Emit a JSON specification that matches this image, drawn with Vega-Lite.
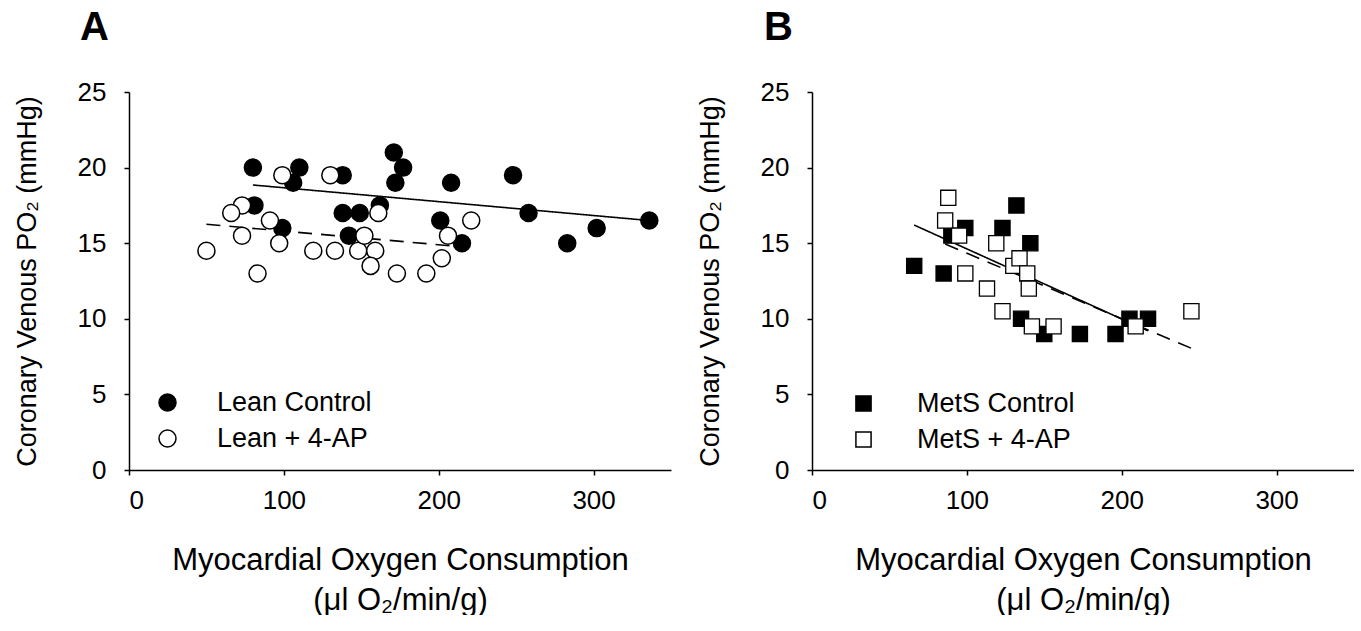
{
  "$schema": "https://vega.github.io/schema/vega-lite/v6.json",
  "background": "white",
  "padding": {"left": 13, "top": 8, "right": 0, "bottom": 0},
  "spacing": 25,
  "config": {
    "font": "Liberation Sans",
    "view": {"stroke": null},
    "axis": {
      "grid": false,
      "domainColor": "black",
      "domainWidth": 1.5,
      "tickColor": "black",
      "tickWidth": 1.5,
      "tickSize": 5,
      "labelColor": "black",
      "labelFontSize": 26,
      "labelFont": "Liberation Sans",
      "titleFont": "Liberation Sans",
      "titleColor": "black",
      "titleFontWeight": "normal"
    },
    "axisX": {"labelPadding": 12, "titleFontSize": 31, "titlePadding": 32, "titleLineHeight": 40},
    "axisY": {"labelPadding": 18, "titleFontSize": 27, "titlePadding": 36},
    "legend": {
      "labelFontSize": 27,
      "labelColor": "black",
      "labelFont": "Liberation Sans",
      "symbolStrokeColor": "black",
      "symbolStrokeWidth": 1.5,
      "rowPadding": 8,
      "labelOffset": 36
    },
    "title": {"fontSize": 40, "fontWeight": "bold", "anchor": "start", "frame": "group", "color": "black", "font": "Liberation Sans"}
  },
  "datasets": {
    "ptsA": [
      {"group": "Lean Control", "mvo2": 80, "po2": 20},
      {"group": "Lean Control", "mvo2": 110, "po2": 20},
      {"group": "Lean Control", "mvo2": 106, "po2": 19},
      {"group": "Lean Control", "mvo2": 138, "po2": 19.5},
      {"group": "Lean Control", "mvo2": 171, "po2": 21},
      {"group": "Lean Control", "mvo2": 177, "po2": 20},
      {"group": "Lean Control", "mvo2": 172, "po2": 19},
      {"group": "Lean Control", "mvo2": 81, "po2": 17.5},
      {"group": "Lean Control", "mvo2": 99, "po2": 16},
      {"group": "Lean Control", "mvo2": 138, "po2": 17},
      {"group": "Lean Control", "mvo2": 149, "po2": 17},
      {"group": "Lean Control", "mvo2": 162, "po2": 17.5},
      {"group": "Lean Control", "mvo2": 142, "po2": 15.5},
      {"group": "Lean Control", "mvo2": 208, "po2": 19},
      {"group": "Lean Control", "mvo2": 248, "po2": 19.5},
      {"group": "Lean Control", "mvo2": 258, "po2": 17},
      {"group": "Lean Control", "mvo2": 201, "po2": 16.5},
      {"group": "Lean Control", "mvo2": 215, "po2": 15},
      {"group": "Lean Control", "mvo2": 283, "po2": 15},
      {"group": "Lean Control", "mvo2": 302, "po2": 16},
      {"group": "Lean Control", "mvo2": 336, "po2": 16.5},
      {"group": "Lean + 4-AP", "mvo2": 99, "po2": 19.5},
      {"group": "Lean + 4-AP", "mvo2": 130, "po2": 19.5},
      {"group": "Lean + 4-AP", "mvo2": 73, "po2": 17.5},
      {"group": "Lean + 4-AP", "mvo2": 66, "po2": 17},
      {"group": "Lean + 4-AP", "mvo2": 91, "po2": 16.5},
      {"group": "Lean + 4-AP", "mvo2": 73, "po2": 15.5},
      {"group": "Lean + 4-AP", "mvo2": 97, "po2": 15},
      {"group": "Lean + 4-AP", "mvo2": 50, "po2": 14.5},
      {"group": "Lean + 4-AP", "mvo2": 119, "po2": 14.5},
      {"group": "Lean + 4-AP", "mvo2": 133, "po2": 14.5},
      {"group": "Lean + 4-AP", "mvo2": 148, "po2": 14.5},
      {"group": "Lean + 4-AP", "mvo2": 159, "po2": 14.5},
      {"group": "Lean + 4-AP", "mvo2": 152, "po2": 15.5},
      {"group": "Lean + 4-AP", "mvo2": 161, "po2": 17},
      {"group": "Lean + 4-AP", "mvo2": 156, "po2": 13.5},
      {"group": "Lean + 4-AP", "mvo2": 83, "po2": 13},
      {"group": "Lean + 4-AP", "mvo2": 173, "po2": 13},
      {"group": "Lean + 4-AP", "mvo2": 192, "po2": 13},
      {"group": "Lean + 4-AP", "mvo2": 221, "po2": 16.5},
      {"group": "Lean + 4-AP", "mvo2": 206, "po2": 15.5},
      {"group": "Lean + 4-AP", "mvo2": 202, "po2": 14}
    ],
    "linesA": [
      {"fit": "control", "mvo2": 80, "po2": 18.85},
      {"fit": "control", "mvo2": 336, "po2": 16.5},
      {"fit": "4ap", "mvo2": 50, "po2": 16.25},
      {"fit": "4ap", "mvo2": 211, "po2": 14.8}
    ],
    "ptsB": [
      {"group": "MetS Control", "mvo2": 66, "po2": 13.5},
      {"group": "MetS Control", "mvo2": 85, "po2": 13},
      {"group": "MetS Control", "mvo2": 99, "po2": 16},
      {"group": "MetS Control", "mvo2": 90, "po2": 15.5},
      {"group": "MetS Control", "mvo2": 132, "po2": 17.5},
      {"group": "MetS Control", "mvo2": 123, "po2": 16},
      {"group": "MetS Control", "mvo2": 141, "po2": 15},
      {"group": "MetS Control", "mvo2": 135, "po2": 10},
      {"group": "MetS Control", "mvo2": 150, "po2": 9},
      {"group": "MetS Control", "mvo2": 173, "po2": 9},
      {"group": "MetS Control", "mvo2": 196, "po2": 9},
      {"group": "MetS Control", "mvo2": 205, "po2": 10},
      {"group": "MetS Control", "mvo2": 217, "po2": 10},
      {"group": "MetS + 4-AP", "mvo2": 88, "po2": 18},
      {"group": "MetS + 4-AP", "mvo2": 86, "po2": 16.5},
      {"group": "MetS + 4-AP", "mvo2": 95, "po2": 15.5},
      {"group": "MetS + 4-AP", "mvo2": 99, "po2": 13},
      {"group": "MetS + 4-AP", "mvo2": 119, "po2": 15},
      {"group": "MetS + 4-AP", "mvo2": 113, "po2": 12},
      {"group": "MetS + 4-AP", "mvo2": 123, "po2": 10.5},
      {"group": "MetS + 4-AP", "mvo2": 130, "po2": 13.5},
      {"group": "MetS + 4-AP", "mvo2": 134, "po2": 14},
      {"group": "MetS + 4-AP", "mvo2": 139, "po2": 13},
      {"group": "MetS + 4-AP", "mvo2": 140, "po2": 12},
      {"group": "MetS + 4-AP", "mvo2": 142, "po2": 9.5},
      {"group": "MetS + 4-AP", "mvo2": 156, "po2": 9.5},
      {"group": "MetS + 4-AP", "mvo2": 209, "po2": 9.5},
      {"group": "MetS + 4-AP", "mvo2": 245, "po2": 10.5}
    ],
    "linesB": [
      {"fit": "control", "mvo2": 66, "po2": 16.2},
      {"fit": "control", "mvo2": 217, "po2": 9.2},
      {"fit": "4ap", "mvo2": 86, "po2": 14.95},
      {"fit": "4ap", "mvo2": 245, "po2": 8.05}
    ]
  },
  "hconcat": [
    {
      "width": 542,
      "height": 378,
      "title": {"text": "A", "dx": -49, "offset": 31},
      "layer": [
        {
          "data": {"name": "linesA"},
          "mark": {"type": "line", "color": "black", "strokeWidth": 1.6},
          "encoding": {
            "x": {"field": "mvo2", "type": "quantitative"},
            "y": {"field": "po2", "type": "quantitative"},
            "strokeDash": {"field": "fit", "type": "nominal", "scale": {"domain": ["control", "4ap"], "range": [[1, 0], [14, 9]]}, "legend": null}
          }
        },
        {
          "data": {"name": "ptsA"},
          "mark": {"type": "point", "shape": "circle", "filled": true, "stroke": "black", "strokeWidth": 1.5, "size": 290, "opacity": 1},
          "encoding": {
            "x": {"field": "mvo2", "type": "quantitative", "scale": {"domain": [0, 350], "nice": false}, "axis": {"values": [0, 100, 200, 300], "title": ["Myocardial Oxygen Consumption", "(μl O₂/min/g)"]}},
            "y": {"field": "po2", "type": "quantitative", "scale": {"domain": [0, 25], "nice": false}, "axis": {"values": [0, 5, 10, 15, 20, 25], "title": "Coronary Venous PO₂ (mmHg)"}},
            "fill": {"field": "group", "type": "nominal", "scale": {"domain": ["Lean Control", "Lean + 4-AP"], "range": ["black", "white"]},
              "legend": {"title": null, "orient": "none", "legendX": 25, "legendY": 297, "symbolType": "circle", "symbolSize": 290}}
          }
        }
      ]
    },
    {
      "width": 542,
      "height": 378,
      "title": {"text": "B", "dx": -48, "offset": 31},
      "layer": [
        {
          "data": {"name": "linesB"},
          "mark": {"type": "line", "color": "black", "strokeWidth": 1.6},
          "encoding": {
            "x": {"field": "mvo2", "type": "quantitative"},
            "y": {"field": "po2", "type": "quantitative"},
            "strokeDash": {"field": "fit", "type": "nominal", "scale": {"domain": ["control", "4ap"], "range": [[1, 0], [14, 9]]}, "legend": null}
          }
        },
        {
          "data": {"name": "ptsB"},
          "mark": {"type": "point", "shape": "square", "filled": true, "stroke": "black", "strokeWidth": 1.3, "size": 230, "opacity": 1},
          "encoding": {
            "x": {"field": "mvo2", "type": "quantitative", "scale": {"domain": [0, 350], "nice": false}, "axis": {"values": [0, 100, 200, 300], "title": ["Myocardial Oxygen Consumption", "(μl O₂/min/g)"]}},
            "y": {"field": "po2", "type": "quantitative", "scale": {"domain": [0, 25], "nice": false}, "axis": {"values": [0, 5, 10, 15, 20, 25], "title": "Coronary Venous PO₂ (mmHg)"}},
            "fill": {"field": "group", "type": "nominal", "scale": {"domain": ["MetS Control", "MetS + 4-AP"], "range": ["black", "white"]},
              "legend": {"title": null, "orient": "none", "legendX": 38, "legendY": 298, "symbolType": "square", "symbolSize": 230, "labelOffset": 40}}
          }
        }
      ]
    }
  ],
  "resolve": {"scale": {"fill": "independent", "strokeDash": "independent"}, "legend": {"fill": "independent"}}
}
